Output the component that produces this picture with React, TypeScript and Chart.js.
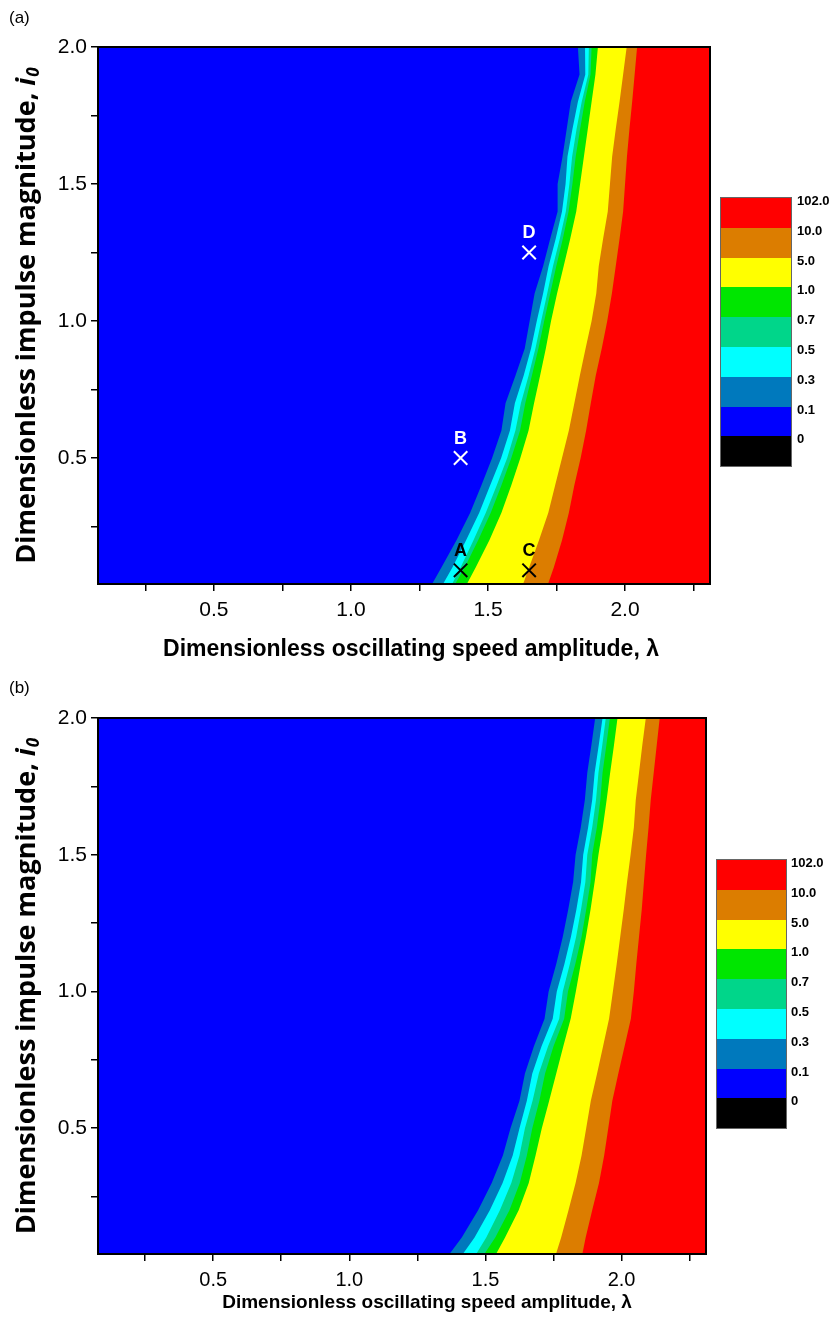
import React, { useEffect, useRef } from "react";
import { Chart, registerables } from "chart.js";

Chart.register(...registerables);

// ---------- data ----------
const I0_LEVELS = [2.0, 1.9, 1.8, 1.7, 1.6, 1.5, 1.4, 1.3, 1.2, 1.1, 1.0, 0.9, 0.8, 0.7, 0.6, 0.5, 0.4, 0.3, 0.2, 0.1, 0.04];

// Panel (a): λ of each contour boundary at the i0 levels above
const A_B01 = [1.828, 1.834, 1.802, 1.787, 1.772, 1.754, 1.754, 1.727, 1.701, 1.670, 1.652, 1.634, 1.600, 1.564, 1.549, 1.515, 1.476, 1.435, 1.385, 1.330, 1.296];
const A_B03 = [1.854, 1.855, 1.828, 1.808, 1.790, 1.783, 1.770, 1.747, 1.721, 1.701, 1.678, 1.657, 1.630, 1.598, 1.580, 1.548, 1.508, 1.468, 1.420, 1.370, 1.336];
const A_B05 = [1.868, 1.866, 1.842, 1.823, 1.807, 1.797, 1.784, 1.762, 1.737, 1.716, 1.694, 1.673, 1.648, 1.620, 1.600, 1.570, 1.532, 1.492, 1.447, 1.400, 1.369];
const A_B07 = [1.878, 1.874, 1.853, 1.836, 1.820, 1.808, 1.794, 1.773, 1.749, 1.727, 1.705, 1.684, 1.660, 1.636, 1.617, 1.585, 1.549, 1.510, 1.464, 1.415, 1.380];
const A_B10 = [1.901, 1.892, 1.878, 1.864, 1.850, 1.836, 1.822, 1.800, 1.776, 1.752, 1.730, 1.711, 1.690, 1.668, 1.648, 1.618, 1.585, 1.549, 1.505, 1.455, 1.423];
const A_B50 = [2.006, 1.993, 1.980, 1.966, 1.953, 1.945, 1.937, 1.920, 1.904, 1.895, 1.878, 1.856, 1.835, 1.815, 1.795, 1.770, 1.745, 1.720, 1.686, 1.650, 1.628];
const A_B100 = [2.044, 2.035, 2.026, 2.016, 2.007, 2.000, 1.993, 1.980, 1.966, 1.952, 1.935, 1.915, 1.893, 1.875, 1.858, 1.838, 1.815, 1.795, 1.770, 1.740, 1.719];

// Panel (b)
const B_B01 = [1.903, 1.889, 1.874, 1.865, 1.850, 1.831, 1.822, 1.804, 1.784, 1.760, 1.732, 1.717, 1.678, 1.645, 1.625, 1.592, 1.564, 1.523, 1.473, 1.413, 1.368];
const B_B03 = [1.930, 1.916, 1.901, 1.892, 1.877, 1.859, 1.851, 1.834, 1.814, 1.790, 1.762, 1.747, 1.706, 1.672, 1.652, 1.625, 1.600, 1.563, 1.516, 1.460, 1.417];
const B_B05 = [1.942, 1.929, 1.915, 1.906, 1.892, 1.874, 1.867, 1.851, 1.833, 1.810, 1.784, 1.771, 1.730, 1.696, 1.673, 1.645, 1.625, 1.595, 1.553, 1.503, 1.466];
const B_B07 = [1.957, 1.944, 1.930, 1.922, 1.909, 1.892, 1.886, 1.870, 1.853, 1.830, 1.803, 1.789, 1.750, 1.719, 1.698, 1.672, 1.652, 1.626, 1.588, 1.536, 1.496];
const B_B10 = [1.985, 1.972, 1.958, 1.945, 1.931, 1.915, 1.901, 1.886, 1.869, 1.850, 1.832, 1.813, 1.786, 1.760, 1.734, 1.707, 1.684, 1.659, 1.622, 1.572, 1.539];
const B_B50 = [2.089, 2.076, 2.064, 2.052, 2.045, 2.033, 2.020, 2.008, 1.995, 1.982, 1.968, 1.954, 1.932, 1.910, 1.887, 1.870, 1.853, 1.831, 1.805, 1.778, 1.759];
const B_B100 = [2.140, 2.129, 2.118, 2.107, 2.099, 2.090, 2.082, 2.074, 2.064, 2.054, 2.045, 2.034, 2.011, 1.988, 1.966, 1.951, 1.936, 1.917, 1.892, 1.868, 1.856];

// Marked points in panel (a)
const MARK_NAMES = ["A", "B", "C", "D"];
const MARK_LAMBDA = [1.4, 1.4, 1.65, 1.65];
const MARK_I0 = [0.09, 0.5, 0.09, 1.25];
const MARK_COLORS = ["#000000", "#ffffff", "#000000", "#ffffff"];

// Legend
const LEGEND_LABELS = ["102.0", "10.0", "5.0", "1.0", "0.7", "0.5", "0.3", "0.1", "0"];
const LEGEND_COLORS = ["#ff0000", "#dc7d00", "#ffff00", "#00e600", "#00d68a", "#00ffff", "#0079bd", "#0000ff", "#000000"];

// Axes
const X_MIN = 0.077;
const X_MAX = 2.31;
const Y_MIN = 0.04;
const Y_MAX = 2.0;
const X_TICKS = [0.25, 0.5, 0.75, 1.0, 1.25, 1.5, 1.75, 2.0, 2.25];
const Y_TICKS = [0.25, 0.5, 0.75, 1.0, 1.25, 1.5, 1.75, 2.0];
const MAJOR_TICKS = [0.5, 1.0, 1.5, 2.0];

const X_TITLE = "Dimensionless oscillating speed amplitude, λ";
const Y_TITLE = "Dimensionless impulse magnitude, ";

// band colours to the right of each boundary (0.1, 0.3, 0.5, 0.7, 1.0, 5.0, 10.0)
const BAND_COLORS = ["#0079bd", "#00ffff", "#00d68a", "#00e600", "#ffff00", "#dc7d00", "#ff0000"];
const BG_BLUE = "#0000ff";

type PanelSpec = {
  boundaries: number[][];
  marks: boolean;
  layout: { top: number; right: number };
  xAxisHeight: number;
  xTitleSize: number;
  xTitleX: number;
  xTitleY: number;
  tickSize: number;
};

const PANEL_A: PanelSpec = {
  boundaries: [A_B01, A_B03, A_B05, A_B07, A_B10, A_B50, A_B100],
  marks: true,
  layout: { top: 47, right: 124 },
  xAxisHeight: 83,
  xTitleSize: 23,
  xTitleX: 411,
  xTitleY: 650,
  tickSize: 21,
};
const PANEL_B: PanelSpec = {
  boundaries: [B_B01, B_B03, B_B05, B_B07, B_B10, B_B50, B_B100],
  marks: false,
  layout: { top: 51, right: 128 },
  xAxisHeight: 80,
  xTitleSize: 19,
  xTitleX: 427,
  xTitleY: 636,
  tickSize: 20,
};

const bgPlugin = {
  id: "bgPlugin",
  beforeDatasetsDraw(chart: any) {
    const { ctx, chartArea: a } = chart;
    ctx.save();
    ctx.fillStyle = BG_BLUE;
    ctx.fillRect(a.left, a.top, a.right - a.left, a.bottom - a.top);
    ctx.restore();
  },
};

const framePlugin = {
  id: "framePlugin",
  afterDatasetsDraw(chart: any) {
    const { ctx, chartArea: a } = chart;
    ctx.save();
    ctx.strokeStyle = "#000";
    ctx.lineWidth = 2;
    ctx.strokeRect(a.left, a.top, a.right - a.left, a.bottom - a.top);
    ctx.restore();
  },
};

const markLabelPlugin = {
  id: "markLabelPlugin",
  afterDatasetsDraw(chart: any, _args: any, opts: any) {
    if (!opts || !opts.enabled) return;
    const meta = chart.getDatasetMeta(0);
    const { ctx } = chart;
    ctx.save();
    ctx.font = 'bold 18px "Liberation Sans", Arial, sans-serif';
    ctx.textAlign = "center";
    ctx.textBaseline = "middle";
    meta.data.forEach((pt: any, i: number) => {
      ctx.fillStyle = MARK_COLORS[i];
      ctx.fillText(MARK_NAMES[i], pt.x, pt.y - 19);
    });
    ctx.restore();
  },
};

const xTitlePlugin = {
  id: "xTitlePlugin",
  afterDraw(chart: any, _args: any, opts: any) {
    const { ctx } = chart;
    ctx.save();
    ctx.font = `bold ${opts.size}px "Liberation Sans", Arial, sans-serif`;
    ctx.fillStyle = "#000";
    ctx.textAlign = "center";
    ctx.textBaseline = "middle";
    ctx.fillText(X_TITLE, opts.x, opts.y);
    ctx.restore();
  },
};

const yTitlePlugin = {
  id: "yTitlePlugin",
  afterDraw(chart: any) {
    const { ctx, chartArea: a } = chart;
    const big = 'bold 27px "Open Sans", "Liberation Sans", sans-serif';
    const ital = 'italic bold 27px "Open Sans", "Liberation Sans", sans-serif';
    const sub = 'italic bold 17px "Open Sans", "Liberation Sans", sans-serif';
    ctx.save();
    ctx.translate(27, (a.top + a.bottom) / 2);
    ctx.rotate(-Math.PI / 2);
    ctx.fillStyle = "#000";
    ctx.textBaseline = "middle";
    ctx.textAlign = "left";
    ctx.font = big;
    const w1 = ctx.measureText(Y_TITLE).width;
    ctx.font = ital;
    const w2 = ctx.measureText("i").width;
    ctx.font = sub;
    const w3 = ctx.measureText("0").width;
    const start = -(w1 + w2 + w3 + 1) / 2;
    ctx.font = big;
    ctx.fillText(Y_TITLE, start, 0);
    ctx.font = ital;
    ctx.fillText("i", start + w1, 0);
    ctx.font = sub;
    ctx.fillText("0", start + w1 + w2 + 1, 7);
    ctx.restore();
  },
};

function buildConfig(spec: PanelSpec): any {
  const datasets: any[] = [];
  if (spec.marks) {
    datasets.push({
      data: MARK_LAMBDA.map((x, i) => ({ x, y: MARK_I0[i] })),
      showLine: false,
      fill: false,
      pointStyle: "crossRot",
      pointRadius: 9.5,
      pointBorderWidth: 2,
      pointBorderColor: MARK_COLORS,
      pointBackgroundColor: "rgba(0,0,0,0)",
      borderWidth: 0,
    });
  }
  for (let k = spec.boundaries.length - 1; k >= 0; k--) {
    const vals = spec.boundaries[k];
    datasets.push({
      data: I0_LEVELS.map((y, i) => ({ x: vals[i], y })),
      borderWidth: 0,
      borderColor: BAND_COLORS[k],
      backgroundColor: BAND_COLORS[k],
      pointRadius: 0,
      pointHitRadius: 0,
      tension: 0,
      fill: { value: X_MAX },
    });
  }
  const tickFont = { family: '"Liberation Sans", Arial, sans-serif', size: spec.tickSize };
  return {
    type: "line",
    data: { datasets },
    plugins: [bgPlugin, framePlugin, markLabelPlugin, yTitlePlugin, xTitlePlugin],
    options: {
      indexAxis: "y",
      animation: false,
      responsive: false,
      devicePixelRatio: 1,
      events: [],
      layout: { padding: { top: spec.layout.top, right: spec.layout.right, left: 0, bottom: 0 } },
      plugins: {
        legend: { display: false },
        tooltip: { enabled: false },
        filler: { propagate: false },
        markLabelPlugin: { enabled: spec.marks },
        xTitlePlugin: { x: spec.xTitleX, y: spec.xTitleY, size: spec.xTitleSize },
      },
      scales: {
        x: {
          type: "linear",
          position: "bottom",
          min: X_MIN,
          max: X_MAX,
          afterBuildTicks: (s: any) => {
            s.ticks = X_TICKS.map((v) => ({ value: v }));
          },
          afterFit: (s: any) => {
            s.height = spec.xAxisHeight;
          },
          ticks: {
            autoSkip: false,
            maxRotation: 0,
            color: "#000",
            font: tickFont,
            padding: 7,
            callback: (v: number) => (MAJOR_TICKS.includes(v) ? v.toFixed(1) : ""),
          },
          grid: { drawOnChartArea: false, drawTicks: true, tickLength: 7, color: "#000", lineWidth: 1.5 },
          border: { display: false },
          title: { display: false },
        },
        y: {
          type: "linear",
          position: "left",
          min: Y_MIN,
          max: Y_MAX,
          afterBuildTicks: (s: any) => {
            s.ticks = Y_TICKS.map((v) => ({ value: v }));
          },
          afterFit: (s: any) => {
            s.width = 98;
          },
          ticks: {
            autoSkip: false,
            color: "#000",
            font: { family: '"Liberation Sans", Arial, sans-serif', size: 21 },
            padding: 4,
            callback: (v: number) => (MAJOR_TICKS.includes(v) ? v.toFixed(1) : ""),
          },
          grid: { drawOnChartArea: false, drawTicks: true, tickLength: 7, color: "#000", lineWidth: 1.5 },
          border: { display: false },
        },
      },
    },
  };
}

function Panel({ spec, top }: { spec: PanelSpec; top: number }) {
  const ref = useRef<HTMLCanvasElement | null>(null);
  useEffect(() => {
    if (!ref.current) return;
    const chart = new Chart(ref.current, buildConfig(spec));
    return () => chart.destroy();
  }, [spec]);
  return (
    <div style={{ position: "absolute", left: 0, top, width: 834, height: 667 }}>
      <canvas ref={ref} width={834} height={667} style={{ width: 834, height: 667, display: "block" }} />
    </div>
  );
}

function Legend({ left, top, width, labelLeft }: { left: number; top: number; width: number; labelLeft: number }) {
  const h = 29.8;
  return (
    <>
      <div style={{ position: "absolute", left, top, width, height: h * 9, outline: "1px solid #666" }}>
        {LEGEND_COLORS.map((c, i) => (
          <div key={i} style={{ height: h, background: c }} />
        ))}
      </div>
      {LEGEND_LABELS.map((t, i) => (
        <div
          key={t}
          style={{
            position: "absolute",
            left: labelLeft,
            top: top + i * h + 3 - 8,
            font: 'bold 13px "Liberation Sans", Arial, sans-serif',
            lineHeight: "16px",
            color: "#000",
            whiteSpace: "nowrap",
          }}
        >
          {t}
        </div>
      ))}
    </>
  );
}

export default function App() {
  const panelLabel = { position: "absolute" as const, left: 9, font: '17px "Liberation Sans", Arial, sans-serif', lineHeight: "20px", color: "#000" };
  return (
    <div style={{ position: "absolute", left: 0, top: 0, width: 834, height: 1334, background: "#fff" }}>
      <Panel spec={PANEL_A} top={0} />
      <Panel spec={PANEL_B} top={667} />
      <Legend left={721} top={198} width={70} labelLeft={797} />
      <Legend left={717} top={860} width={69} labelLeft={791} />
      <div style={{ ...panelLabel, top: 8 }}>(a)</div>
      <div style={{ ...panelLabel, top: 678 }}>(b)</div>
    </div>
  );
}
